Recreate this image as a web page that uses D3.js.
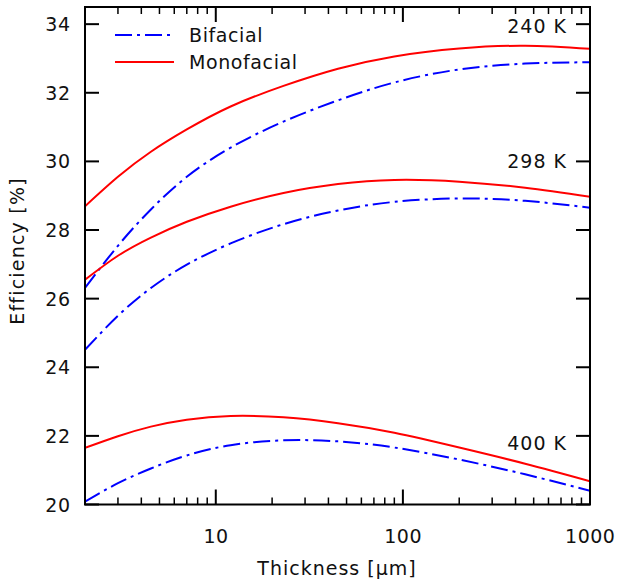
<!DOCTYPE html>
<html>
<head>
<meta charset="utf-8">
<script src="https://cdn.jsdelivr.net/npm/d3@7"></script>
<style>
html,body{margin:0;padding:0;background:#fff;}
text{font-family:"DejaVu Sans",Verdana,sans-serif;}
</style>
</head>
<body>
<svg id="chart" width="618" height="582"></svg>
<script>
const thickness = [2, 3, 4.5, 7, 12, 23, 45, 90, 200, 450, 1000];
const mono240 = [28.69, 29.55, 30.28, 30.93, 31.60, 32.20, 32.70, 33.06, 33.29, 33.37, 33.28];
const bif240  = [26.31, 27.54, 28.60, 29.55, 30.40, 31.16, 31.78, 32.30, 32.68, 32.85, 32.89];
const mono298 = [26.55, 27.25, 27.78, 28.24, 28.68, 29.08, 29.34, 29.46, 29.41, 29.23, 28.97];
const bif298  = [24.51, 25.50, 26.31, 26.99, 27.61, 28.17, 28.57, 28.82, 28.92, 28.85, 28.65];
const mono400 = [21.65, 21.99, 22.27, 22.47, 22.58, 22.54, 22.37, 22.09, 21.66, 21.19, 20.68];
const bif400  = [20.08, 20.62, 21.05, 21.43, 21.73, 21.87, 21.84, 21.66, 21.31, 20.88, 20.40];
const tempLabels = ["240 K", "298 K", "400 K"];
const tempLabelY = [33.95, 30.0, 21.8];
const xTickLabels = [10, 100, 1000];
const yTicks = [20, 22, 24, 26, 28, 30, 32, 34];
const legendNames = ["Bifacial", "Monofacial"];

const svg = d3.select("#chart");
const L = 85, R = 590, T = 7, B = 504.5;
const x = d3.scaleLog().domain([2, 1000]).range([L, R]);
const y = d3.scaleLinear().domain([20, 34.5]).range([B, T]);
const FS = 19;

const minor = [];
[1, 10, 100].forEach(d => { for (let k = 2; k <= 9; k++) { const v = d * k; if (v > 2 && v < 1000 && v !== 10 && v !== 100) minor.push(v); } });

const g = svg.append("g");
function xTicks(yPos, dir) {
  xTickLabels.forEach(v => g.append("line").attr("x1", x(v)).attr("x2", x(v)).attr("y1", yPos).attr("y2", yPos + dir * 15).attr("stroke", "#000").attr("stroke-width", 2));
  minor.forEach(v => g.append("line").attr("x1", x(v)).attr("x2", x(v)).attr("y1", yPos).attr("y2", yPos + dir * 7).attr("stroke", "#000").attr("stroke-width", 1.5));
}
xTicks(B, -1); xTicks(T, 1);
const ls = 0.5;
yTicks.forEach(v => {
  g.append("line").attr("x1", L).attr("x2", L + 14).attr("y1", y(v)).attr("y2", y(v)).attr("stroke", "#000").attr("stroke-width", 2);
  g.append("line").attr("x1", R).attr("x2", R - 14).attr("y1", y(v)).attr("y2", y(v)).attr("stroke", "#000").attr("stroke-width", 2);
  g.append("text").attr("x", 70 + ls).attr("y", y(v) + 7).attr("text-anchor", "end").attr("font-size", FS).attr("letter-spacing", ls).attr("fill", "#111").text(v);
});
xTickLabels.forEach(v => g.append("text").attr("x", x(v) + ls / 2).attr("y", 543).attr("text-anchor", "middle").attr("font-size", FS).attr("letter-spacing", ls).attr("fill", "#111").text(v));

const line = d3.line().x((d, i) => x(thickness[i])).y(d => y(d)).curve(d3.curveNatural);
svg.append("clipPath").attr("id", "clip").append("rect").attr("x", L).attr("y", T).attr("width", R - L).attr("height", B - T);
const cg = svg.append("g").attr("clip-path", "url(#clip)");
const dash = "17,5,3,5";
[[bif240, "blue", dash], [mono240, "red", null], [bif298, "blue", dash], [mono298, "red", null], [bif400, "blue", dash], [mono400, "red", null]].forEach(([data, col, da]) => {
  cg.append("path").attr("d", line(data)).attr("fill", "none").attr("stroke", col === "blue" ? "#0000ff" : "#ff0000").attr("stroke-width", 2).attr("stroke-dasharray", da);
});

svg.append("rect").attr("x", L).attr("y", T).attr("width", R - L).attr("height", B - T).attr("fill", "none").attr("stroke", "#000").attr("stroke-width", 2);

tempLabels.forEach((t, i) => svg.append("text").attr("x", 566 + 1).attr("y", y(tempLabelY[i]) + 7).attr("text-anchor", "end").attr("font-size", FS).attr("letter-spacing", 1).attr("fill", "#111").text(t));

const legY = [35, 62];
legendNames.forEach((n, i) => {
  svg.append("line").attr("x1", 115).attr("x2", 174).attr("y1", legY[i]).attr("y2", legY[i]).attr("stroke", i === 0 ? "#0000ff" : "#ff0000").attr("stroke-width", 2).attr("stroke-dasharray", i === 0 ? dash : null);
  svg.append("text").attr("x", 189).attr("y", legY[i] + 7).attr("font-size", FS).attr("letter-spacing", 0.6).attr("fill", "#111").text(n);
});

svg.append("text").attr("x", 337).attr("y", 575).attr("text-anchor", "middle").attr("font-size", FS).attr("letter-spacing", 1).attr("fill", "#111").text("Thickness [µm]");
svg.append("text").attr("transform", "translate(24,251) rotate(-90)").attr("text-anchor", "middle").attr("font-size", FS).attr("letter-spacing", 1.2).attr("fill", "#111").text("Efficiency [%]");
</script>
</body>
</html>
